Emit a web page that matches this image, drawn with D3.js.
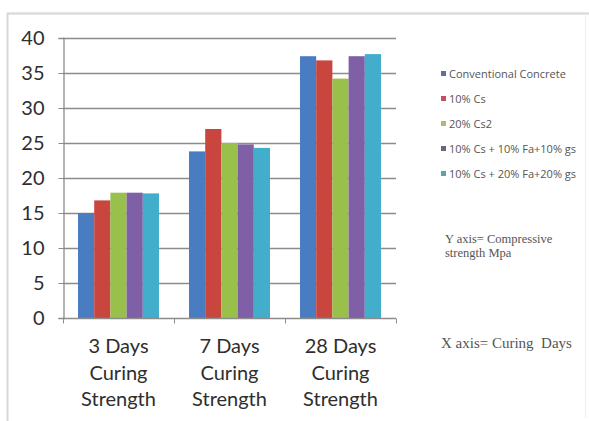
<!DOCTYPE html>
<html>
<head>
<meta charset="utf-8">
<script src="https://cdn.jsdelivr.net/npm/d3@7/dist/d3.min.js"></script>
<style>
  html, body { margin: 0; padding: 0; background: #fff; }
  svg { display: block; }
</style>
</head>
<body>
<svg id="chart" width="589" height="421"></svg>
<script>
// Curing periods on the x axis
const categories = [
  ["3 Days", "Curing", "Strength"],
  ["7 Days", "Curing", "Strength"],
  ["28 Days", "Curing", "Strength"]
];
// Mixes (legend order)
const seriesNames = [
  "Conventional Concrete",
  "10% Cs",
  "20% Cs2",
  "10% Cs + 10% Fa+10% gs",
  "10% Cs + 20% Fa+20% gs"
];
// Compressive strength (MPa) per mix, one value per curing period
const conventional = [15.0, 23.8, 37.4];
const cs10 = [16.8, 27.0, 36.8];
const cs20 = [17.9, 25.0, 34.2];
const cs10fa10gs10 = [17.9, 24.8, 37.4];
const cs10fa20gs20 = [17.8, 24.3, 37.7];
const seriesValues = [conventional, cs10, cs20, cs10fa10gs10, cs10fa20gs20];
const yTicks = [0, 5, 10, 15, 20, 25, 30, 35, 40];

const colors = ["#4a7cc2", "#c9463f", "#98c04b", "#7f5fa6", "#42aecb"];
const legendColors = ["#5d6f9a", "#c4505c", "#a9bc7c", "#6f6382", "#5aa4a8"];

const svg = d3.select("#chart");

// outer frame
svg.append("line").attr("x1", 7).attr("x2", 589).attr("y1", 13.5).attr("y2", 13.5)
  .attr("stroke", "#dcdcdc").attr("stroke-width", 2.5);
svg.append("line").attr("x1", 7.5).attr("x2", 7.5).attr("y1", 13).attr("y2", 421)
  .attr("stroke", "#d8d8d8").attr("stroke-width", 2);
svg.append("line").attr("x1", 585.5).attr("x2", 585.5).attr("y1", 14).attr("y2", 418)
  .attr("stroke", "#eeeeee").attr("stroke-width", 1);

const plot = { left: 63, right: 396, top: 38, bottom: 318 };

const y = d3.scaleLinear().domain([0, 40]).range([plot.bottom, plot.top]);
const x0 = d3.scaleBand().domain(d3.range(categories.length))
  .range([plot.left, plot.right]).paddingInner(0).paddingOuter(0);
const x1 = d3.scaleBand().domain(d3.range(seriesNames.length))
  .range([15, x0.bandwidth() - 15]).padding(0);

// gridlines
svg.append("g")
  .selectAll("line")
  .data(yTicks.filter(t => t > 0))
  .join("line")
  .attr("x1", plot.left).attr("x2", plot.right)
  .attr("y1", d => Math.round(y(d)) + 0.5).attr("y2", d => Math.round(y(d)) + 0.5)
  .attr("stroke", "#8c8c8c").attr("stroke-width", 1.3);

// y axis
const yAxis = svg.append("g")
  .attr("transform", `translate(${plot.left + 0.5},0)`)
  .call(d3.axisLeft(y).tickValues(yTicks).tickSize(5).tickPadding(14));
yAxis.select(".domain").attr("stroke", "#8c8c8c").attr("stroke-width", 1.3);
yAxis.selectAll(".tick line").attr("stroke", "#8c8c8c");
yAxis.selectAll(".tick text")
  .attr("font-family", "Lato, 'Open Sans', sans-serif")
  .attr("font-size", 20).attr("fill", "#2e2e2e");

// bars
svg.append("g")
  .selectAll("g")
  .data(seriesValues)
  .join("g")
  .attr("fill", (d, i) => colors[i])
  .selectAll("rect")
  .data((vals, si) => vals.map((v, ci) => ({ v, ci, si })))
  .join("rect")
  .attr("x", d => x0(d.ci) + x1(d.si))
  .attr("width", x1.bandwidth())
  .attr("y", d => y(d.v))
  .attr("height", d => y(0) - y(d.v));

// x axis
const xAxis = svg.append("g")
  .attr("transform", `translate(0,${plot.bottom + 0.5})`);
xAxis.append("line").attr("x1", plot.left).attr("x2", plot.right)
  .attr("stroke", "#8c8c8c").attr("stroke-width", 1.3);
xAxis.selectAll("line.tk")
  .data(d3.range(categories.length + 1))
  .join("line").attr("class", "tk")
  .attr("x1", i => plot.left + i * x0.bandwidth() + 0.5)
  .attr("x2", i => plot.left + i * x0.bandwidth() + 0.5)
  .attr("y1", 0).attr("y2", 5)
  .attr("stroke", "#8c8c8c");

// category labels
const catText = svg.append("g")
  .selectAll("text")
  .data(categories)
  .join("text")
  .attr("text-anchor", "middle")
  .attr("font-family", "Lato, 'Open Sans', sans-serif")
  .attr("font-size", 20).attr("fill", "#2e2e2e")
  .attr("transform", (d, i) => `translate(${x0(i) + x0.bandwidth() / 2},353)`);
catText.selectAll("tspan")
  .data(d => d)
  .join("tspan")
  .attr("x", 0)
  .attr("y", (d, i) => i * 26.5)
  .text(d => d);

// legend
const legend = svg.append("g").attr("transform", "translate(441,74)");
const items = legend.selectAll("g")
  .data(seriesNames)
  .join("g")
  .attr("transform", (d, i) => `translate(0,${i * 25})`);
items.append("rect").attr("x", 0).attr("y", -3).attr("width", 5).attr("height", 5)
  .attr("fill", (d, i) => legendColors[i]);
items.append("text").attr("x", 8).attr("y", 3.5)
  .attr("font-family", "'Open Sans', Lato, sans-serif")
  .attr("font-size", 11).attr("fill", "#555")
  .text(d => d);

// axis descriptions
const notes = svg.append("g")
  .attr("font-family", "'Liberation Serif', 'Times New Roman', serif")
  .attr("fill", "#555");
notes.append("text").attr("x", 445).attr("y", 243).attr("font-size", 12.5)
  .text("Y axis= Compressive");
notes.append("text").attr("x", 445).attr("y", 257).attr("font-size", 12.5)
  .text("strength Mpa");
notes.append("text").attr("x", 441).attr("y", 348).attr("font-size", 15)
  .text("X axis= Curing\u00a0 Days");
</script>
</body>
</html>
